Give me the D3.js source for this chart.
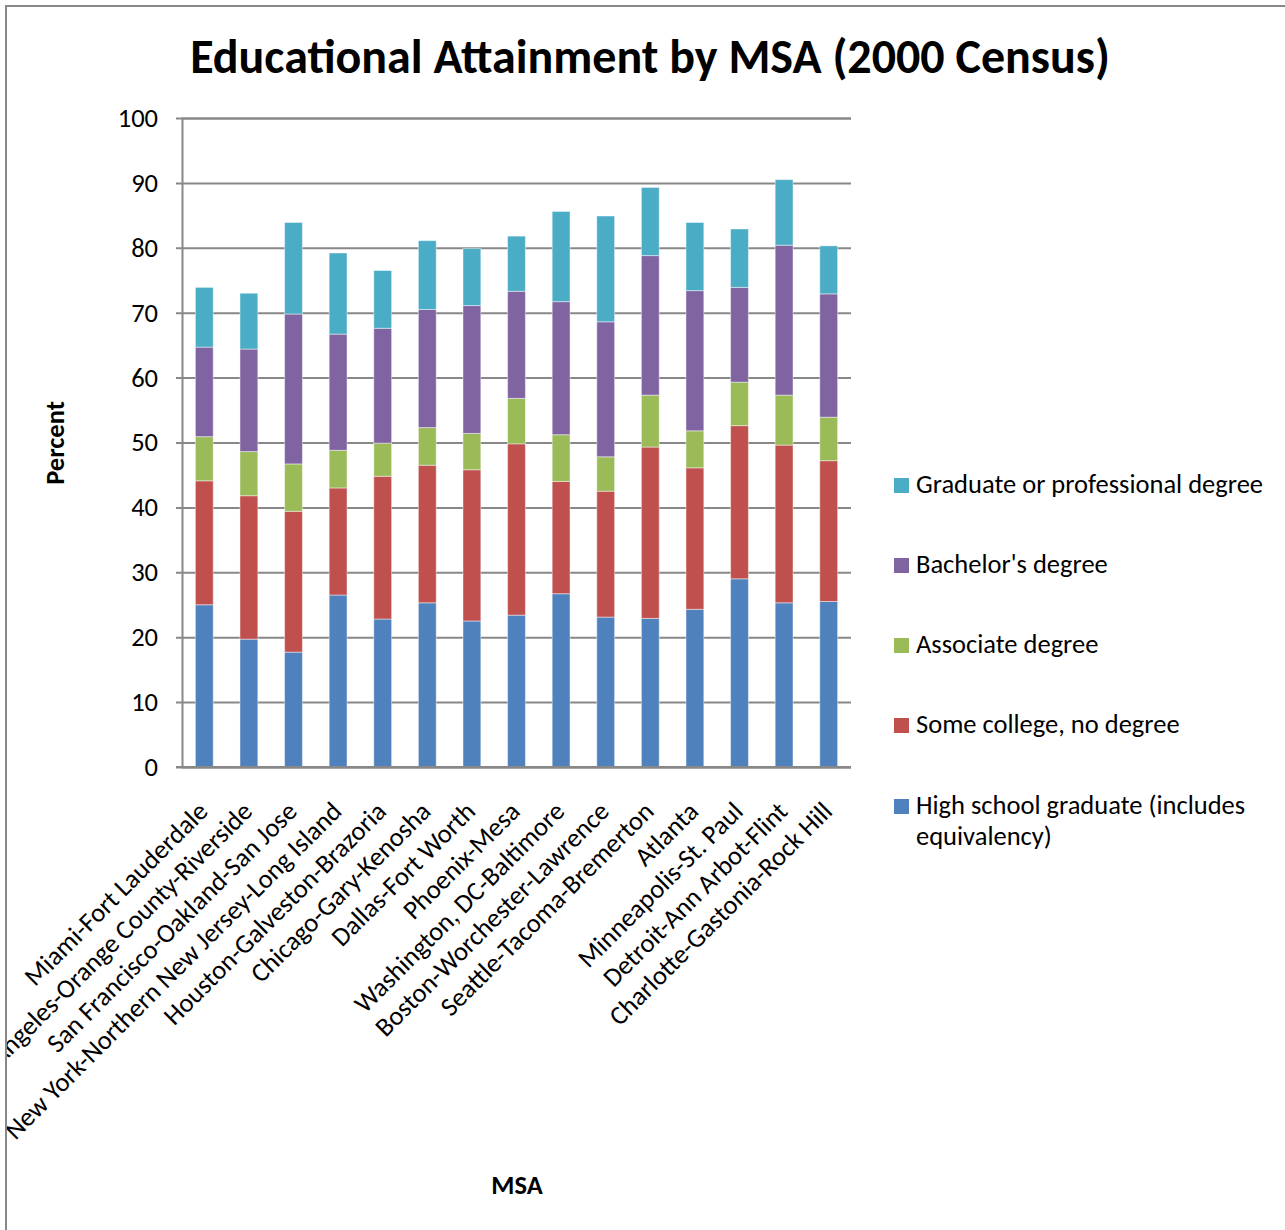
<!DOCTYPE html>
<html>
<head>
<meta charset="utf-8">
<script src="https://cdn.jsdelivr.net/npm/d3@7"></script>
<style>
  body { margin: 0; background: #fff; }
  text { font-family: Carlito, Calibri, Lato, sans-serif; }
</style>
</head>
<body>
<svg id="chart" width="1285" height="1230"></svg>
<script>
// categories + series (percent)
const msas = [
  'Miami-Fort Lauderdale', 'Los Angeles-Orange County-Riverside', 'San Francisco-Oakland-San Jose',
  'New York-Northern New Jersey-Long Island', 'Houston-Galveston-Brazoria', 'Chicago-Gary-Kenosha',
  'Dallas-Fort Worth', 'Phoenix-Mesa', 'Washington, DC-Baltimore', 'Boston-Worchester-Lawrence',
  'Seattle-Tacoma-Bremerton', 'Atlanta', 'Minneapolis-St. Paul', 'Detroit-Ann Arbot-Flint',
  'Charlotte-Gastonia-Rock Hill'
]
const highSchool = [25.0, 19.7, 17.7, 26.5, 22.8, 25.3, 22.5, 23.4, 26.7, 23.1, 22.9, 24.3, 29.0, 25.3, 25.5]
const someCollege = [19.1, 22.1, 21.7, 16.5, 22.0, 21.2, 23.3, 26.4, 17.3, 19.4, 26.4, 21.8, 23.6, 24.3, 21.7]
const associate = [6.8, 6.8, 7.3, 5.8, 5.1, 5.8, 5.6, 7.0, 7.2, 5.3, 8.0, 5.7, 6.7, 7.7, 6.7]
const bachelor = [13.8, 15.8, 23.1, 17.9, 17.7, 18.2, 19.7, 16.5, 20.5, 20.8, 21.5, 21.6, 14.6, 23.1, 19.0]
const graduate = [9.2, 8.6, 14.1, 12.5, 8.9, 10.6, 8.8, 8.5, 13.9, 16.3, 10.5, 10.5, 9.0, 10.1, 7.4]

const seriesNames = ['High school graduate (includes equivalency)', 'Some college, no degree',
  'Associate degree', "Bachelor's degree", 'Graduate or professional degree']
const colors = ['#4F81BD', '#C0504D', '#9BBB59', '#8064A2', '#4BACC6']
const yTicks = [0, 10, 20, 30, 40, 50, 60, 70, 80, 90, 100]

const keys = ['hs', 'some', 'assoc', 'bach', 'grad']
const table = msas.map((m, i) => ({
  msa: m, hs: highSchool[i], some: someCollege[i], assoc: associate[i], bach: bachelor[i], grad: graduate[i]
}))

const svg = d3.select('#chart')
const plotLeft = 182, plotRight = 851, plotTop = 118, plotBottom = 767
const fs = 26.5 // Lato is wider per em than calibri, so a bit bigger

// chart area border (runs off the picture on right/bottom)
svg.append('defs').append('clipPath').attr('id', 'area')
  .append('rect').attr('x', 7).attr('y', 7).attr('width', 1400).attr('height', 1400)
svg.append('rect')
  .attr('x', 6).attr('y', 6).attr('width', 1400).attr('height', 1400)
  .attr('fill', 'none').attr('stroke', '#888').attr('stroke-width', 2)

const x = d3.scaleBand().domain(msas).range([plotLeft, plotRight]).paddingInner(0.6).paddingOuter(0.3)
const y = d3.scaleLinear().domain([0, 100]).range([plotBottom, plotTop])

// gridlines + y axis
const yAxis = d3.axisLeft(y).tickValues(yTicks).tickSize(-(plotRight - plotLeft)).tickPadding(24)
const gy = svg.append('g').attr('transform', `translate(${plotLeft},0)`).call(yAxis)
gy.select('.domain').attr('stroke', '#888').attr('stroke-width', 2)
gy.selectAll('.tick line').attr('stroke', '#888').attr('stroke-width', 2).attr('x1', -6)
gy.selectAll('.tick text').attr('font-size', fs).attr('fill', '#000')
  .style('font-family', 'Carlito, Calibri, Lato, sans-serif')

// stacked bars
const stacked = d3.stack().keys(keys)(table)
svg.append('g').selectAll('g')
  .data(stacked)
  .join('g')
  .attr('fill', (d, i) => colors[i])
  .selectAll('rect')
  .data(d => d)
  .join('rect')
  .attr('x', d => x(d.data.msa))
  .attr('width', x.bandwidth())
  .attr('y', d => y(d[1]))
  .attr('height', d => y(d[0]) - y(d[1]))
  .attr('stroke', 'rgba(255,255,255,0.45)')
  .attr('stroke-width', 1)

// x axis baseline
svg.append('line').attr('x1', plotLeft - 6).attr('x2', plotRight).attr('y1', plotBottom).attr('y2', plotBottom)
  .attr('stroke', '#888').attr('stroke-width', 2)

// rotated category labels
svg.append('g').attr('clip-path', 'url(#area)')
  .selectAll('text')
  .data(msas)
  .join('text')
  .attr('transform', d => `translate(${x(d) + x.bandwidth() / 2 + 5},${plotBottom + 46}) rotate(-45)`)
  .attr('text-anchor', 'end')
  .attr('font-size', fs)
  .text(d => d)

// titles
svg.append('text').attr('x', 650).attr('y', 73).attr('text-anchor', 'middle')
  .attr('font-size', 48).attr('font-weight', 'bold').text('Educational Attainment by MSA (2000 Census)')
svg.append('text').attr('transform', 'translate(64,443) rotate(-90)').attr('text-anchor', 'middle')
  .attr('font-size', fs).attr('font-weight', 'bold').text('Percent')
svg.append('text').attr('x', 517).attr('y', 1194).attr('text-anchor', 'middle')
  .attr('font-size', fs).attr('font-weight', 'bold').text('MSA')

// legend, top entry is the last series
const legendY = [806, 725, 645, 565, 485]
const leg = svg.append('g').selectAll('g')
  .data(seriesNames)
  .join('g')
  .attr('transform', (d, i) => `translate(894,${legendY[i]})`)
leg.append('rect').attr('x', 0).attr('y', -7).attr('width', 15).attr('height', 15)
  .attr('fill', (d, i) => colors[i])
leg.append('text').attr('x', 22).attr('y', 8).attr('font-size', fs)
  .each(function (d, i) {
    const t = d3.select(this)
    if (i === 0) {
      t.append('tspan').attr('x', 22).text('High school graduate (includes')
      t.append('tspan').attr('x', 22).attr('dy', 31).text('equivalency)')
    } else {
      t.text(d)
    }
  })
</script>
</body>
</html>
